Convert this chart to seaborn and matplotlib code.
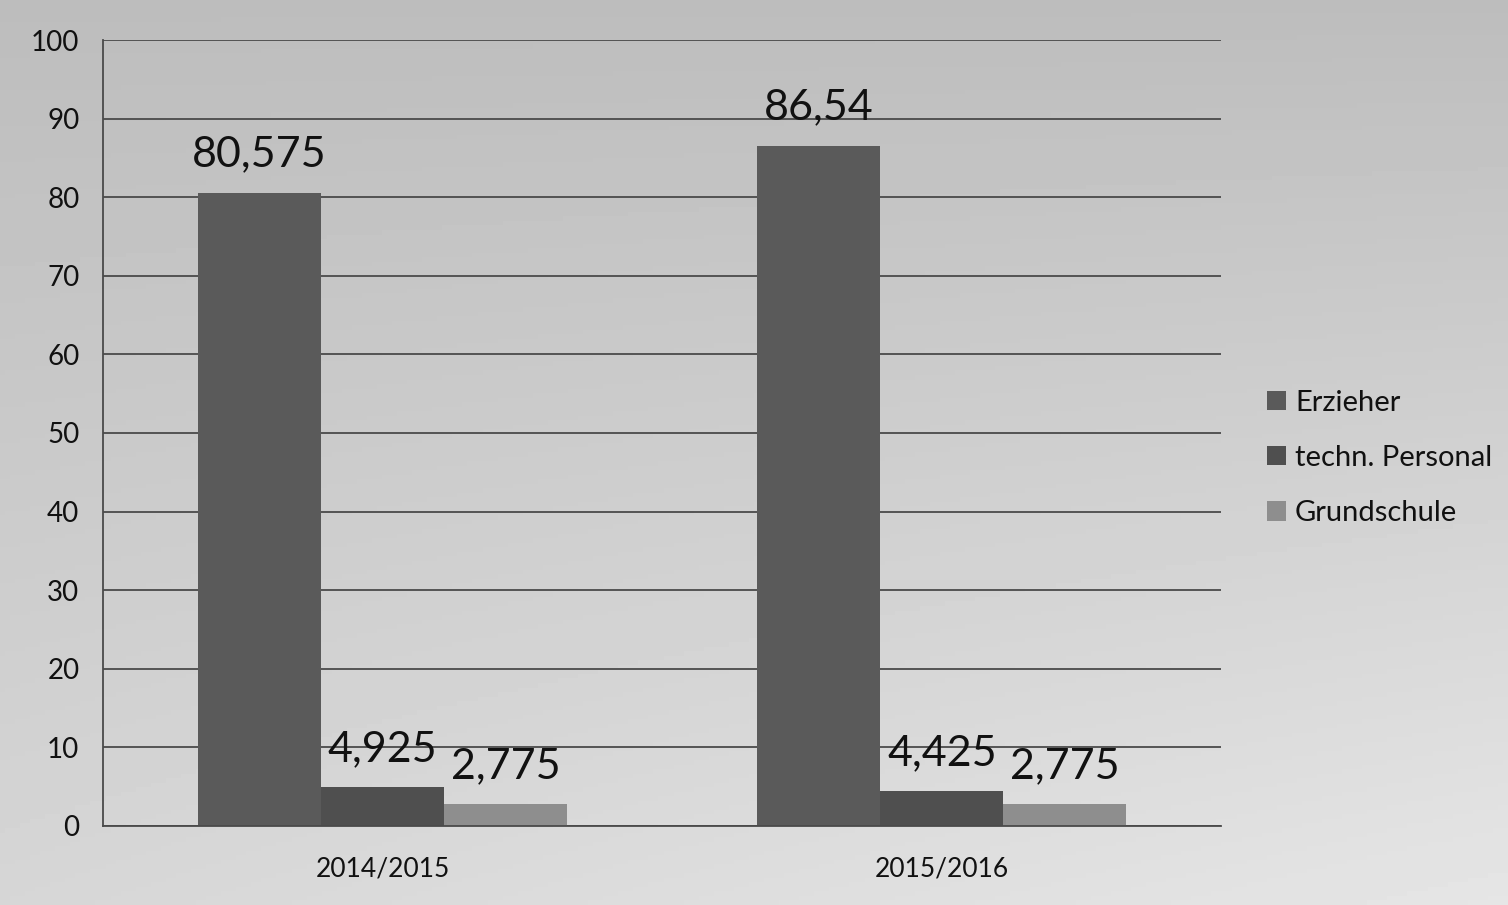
import numpy as np
import pandas as pd
import matplotlib
matplotlib.use("Agg")
import matplotlib.pyplot as plt
import seaborn as sns
from matplotlib.patches import Patch

years = ["2014/2015", "2015/2016"]
series = ["Erzieher", "techn. Personal", "Grundschule"]
erzieher = [80.575, 86.54]
techn = [4.925, 4.425]
grundschule = [2.775, 2.775]
colors = ["#5a5a5a", "#4f4f4f", "#8e8e8e"]

df = pd.DataFrame({
    "Jahr": years * 3,
    "Gruppe": [s for s in series for _ in years],
    "Wert": erzieher + techn + grundschule,
})

sns.set_theme(style="white")
plt.rcParams["font.family"] = ["Lato", "DejaVu Sans"]

fig = plt.figure(figsize=(15.08, 9.05), dpi=100)

# scanned-paper gray gradient background
bg = fig.add_axes([0, 0, 1, 1], zorder=-10)
yy, xx = np.mgrid[0:1:200j, 0:1:300j]
grad = 0.74 + 0.10 * yy + 0.06 * xx * yy
bg.imshow(grad, cmap="gray", vmin=0, vmax=1, aspect="auto", extent=[0, 1, 0, 1], origin="upper")
bg.axis("off")

ax = fig.add_axes([0.0683, 0.0873, 0.7417, 0.8685])
ax.set_facecolor("none")

sns.barplot(data=df, x="Jahr", y="Wert", hue="Gruppe", hue_order=series, order=years,
            palette=colors, saturation=1, width=0.66, gap=0, ax=ax, errorbar=None,
            linewidth=0)

for cont in ax.containers:
    ax.bar_label(cont, labels=[f"{v:g}".replace(".", ",") for v in cont.datavalues],
                 padding=14, fontsize=31, color="#111111")

ax.set_ylim(0, 100)
ax.set_xlim(-0.5, 1.5)
ax.set_yticks(range(0, 101, 10))
ax.yaxis.grid(True, color="#4a4a4a", linewidth=1.3)
ax.set_axisbelow(True)
ax.set_xlabel("")
ax.set_ylabel("")
ax.set_xticks([-0.5, 0.5, 1.5], minor=True)
ax.tick_params(axis="x", which="major", length=0, labelsize=19, pad=22, labelcolor="#111111")
ax.tick_params(axis="x", which="minor", length=8, width=1.3, color="#4a4a4a", direction="out")
ax.tick_params(axis="y", which="major", length=8, width=1.3, color="#4a4a4a", labelsize=20,
               pad=9, labelcolor="#111111", direction="out")
for s in ["top", "right"]:
    ax.spines[s].set_visible(False)
for s in ["left", "bottom"]:
    ax.spines[s].set_color("#4a4a4a")
    ax.spines[s].set_linewidth(1.3)

ax.legend_.remove()
handles = [Patch(facecolor=c, edgecolor="none") for c in colors]
fig.legend(handles, series, loc="center left", bbox_to_anchor=(0.823, 0.494),
           frameon=False, fontsize=21, handlelength=0.65, handleheight=0.65,
           handletextpad=0.3, labelspacing=1.0, labelcolor="#111111")

fig.savefig("out.png", dpi=100)
